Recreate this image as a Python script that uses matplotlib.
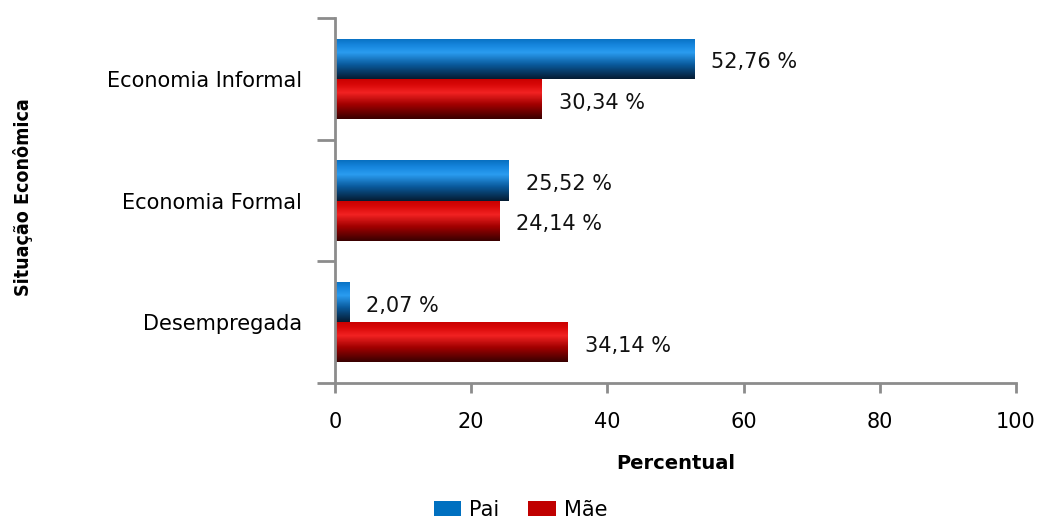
import matplotlib
matplotlib.use("Agg")
import matplotlib.pyplot as plt
import numpy as np
from matplotlib.colors import LinearSegmentedColormap

# data
categorias = ["Desempregada", "Economia Formal", "Economia Informal"]
pai = [2.07, 25.52, 52.76]
mae = [34.14, 24.14, 30.34]
series = ["Pai", "Mãe"]

def fmt(v):
    return ("%.2f %%" % v).replace(".", ",")

# vertical gradients (bottom -> top) to mimic the glossy bars
blue = LinearSegmentedColormap.from_list(
    "b", [(0, "#051c33"), (0.35, "#0a5a9c"), (0.65, "#2a9cf0"), (0.85, "#1584dc"), (1, "#0870c0")])
red = LinearSegmentedColormap.from_list(
    "r", [(0, "#3a0000"), (0.35, "#a00000"), (0.65, "#f22222"), (0.85, "#d80808"), (1, "#c80000")])
grad = np.linspace(0, 1, 64).reshape(-1, 1)

fig = plt.figure(figsize=(10.41, 5.28), dpi=100)
ax = fig.add_axes([0.3218, 0.2746, 0.6542, 0.6913])

y = np.arange(len(categorias))
h = 0.33
b1 = ax.barh(y + h / 2, pai, height=h, color="#0070c0", label=series[0])
b2 = ax.barh(y - h / 2, mae, height=h, color="#c00000", label=series[1])

for bars, cmap in ((b1, blue), (b2, red)):
    for p in bars:
        x0, y0 = p.get_x(), p.get_y()
        x1, y1 = x0 + p.get_width(), y0 + p.get_height()
        im = ax.imshow(grad, cmap=cmap, extent=(x0, x1, y0, y1), origin="lower",
                       aspect="auto", zorder=2)
        im.set_clip_path(p)
        p.set_facecolor("none")
        p.set_edgecolor("none")

for bars, vals in ((b1, pai), (b2, mae)):
    for p, v in zip(bars, vals):
        ax.text(p.get_width() + 2.5, p.get_y() + p.get_height() / 2 - 0.03, fmt(v),
                va="center", ha="left", fontsize=15, color="#111111")

ax.set_xlim(0, 100)
ax.set_ylim(-0.5, 2.5)
ax.set_xticks(np.arange(0, 101, 20))
ax.set_yticks(y)
ax.set_yticklabels(categorias)
ax.set_yticks(np.arange(-0.5, 2.6, 1), minor=True)
ax.tick_params(axis="y", which="major", length=0, pad=24, labelsize=15)
ax.tick_params(axis="y", which="minor", length=13, width=2, color="#8c8c8c")
ax.tick_params(axis="x", length=7, width=2, color="#8c8c8c", labelsize=15, pad=14)

for s in ("top", "right"):
    ax.spines[s].set_visible(False)
for s in ("left", "bottom"):
    ax.spines[s].set_color("#8c8c8c")
    ax.spines[s].set_linewidth(2)

ax.set_xlabel("Percentual", fontsize=14, fontweight="bold", labelpad=16)
fig.text(0.022, 0.627, "Situação Econômica", rotation=90, ha="center", va="center",
         fontsize=14, fontweight="bold", fontstretch="condensed", family="DejaVu Sans")

fig.legend(handles=[b1, b2], labels=series, loc="lower center", ncol=2,
           bbox_to_anchor=(0.5, -0.012), frameon=False, fontsize=15,
           handlelength=1.3, handleheight=0.7, columnspacing=1.4, handletextpad=0.4,
           borderpad=0.2)
for hnd, c in zip(fig.legends[0].legend_handles, ("#0070c0", "#c00000")):
    hnd.set_facecolor(c)

fig.savefig("out.png", dpi=100)
